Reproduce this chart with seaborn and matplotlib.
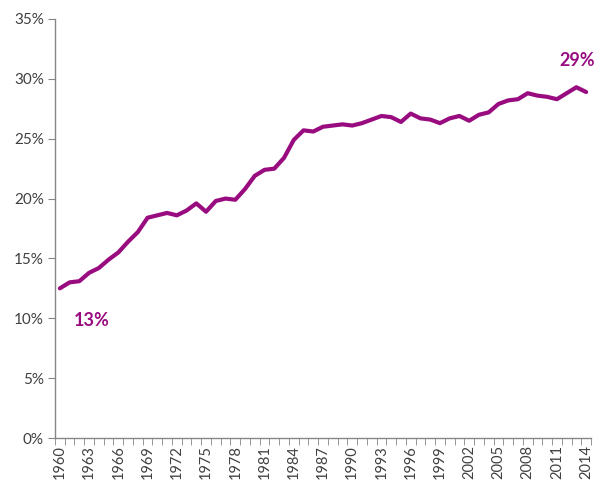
import pandas as pd
import matplotlib.pyplot as plt
import matplotlib.ticker as mticker
import seaborn as sns

# Valores (percentual por ano)
anos = list(range(1960, 2015))
valores = [
    12.5, 13.0, 13.1, 13.8, 14.2, 14.9, 15.5, 16.4, 17.2, 18.4,
    18.6, 18.8, 18.6, 19.0, 19.6, 18.9, 19.8, 20.0, 19.9, 20.8,
    21.9, 22.4, 22.5, 23.4, 24.9, 25.7, 25.6, 26.0, 26.1, 26.2,
    26.1, 26.3, 26.6, 26.9, 26.8, 26.4, 27.1, 26.7, 26.6, 26.3,
    26.7, 26.9, 26.5, 27.0, 27.2, 27.9, 28.2, 28.3, 28.8, 28.6,
    28.5, 28.3, 28.8, 29.3, 28.9,
]
rotulos = ['13%', '29%']

roxo = '#990C80'
cinza = '#868686'
texto = '#404040'

df = pd.DataFrame({'ano': anos, 'valor': valores})

sns.set_style('white')
plt.rcParams['font.family'] = ['Lato', 'DejaVu Sans']

fig = plt.figure(figsize=(5.97, 4.82), dpi=100)
ax = fig.add_axes([55 / 597, 44 / 482, 536 / 597, 419 / 482])

sns.lineplot(data=df, x='ano', y='valor', color=roxo, linewidth=3, ax=ax)

# eixo de categorias: marcas entre os anos, rótulos no centro
ax.set_xlim(anos[0] - 0.5, anos[-1] + 0.5)
ax.set_ylim(0, 35)
ax.set_xlabel('')
ax.set_ylabel('')

ax.yaxis.set_major_locator(mticker.MultipleLocator(5))
ax.yaxis.set_major_formatter(mticker.FuncFormatter(lambda v, p: f'{v:.0f}%'))
ax.set_xticks(anos[::3])
ax.set_xticks([a - 0.5 for a in anos] + [anos[-1] + 0.5], minor=True)
ax.tick_params(axis='x', which='major', rotation=90, labelsize=10.5, length=0,
               labelcolor=texto, pad=5)
ax.tick_params(axis='x', which='minor', length=5, color=cinza,
               direction='out', bottom=True)
ax.tick_params(axis='y', labelsize=11, length=5, color=cinza, direction='out',
               left=True, pad=3, labelcolor=texto)

for lado in ['top', 'right']:
    ax.spines[lado].set_visible(False)
for lado in ['left', 'bottom']:
    ax.spines[lado].set_color(cinza)
    ax.spines[lado].set_linewidth(1)

ax.text(1963.3, 9.8, rotulos[0], color=roxo, fontsize=13, fontweight='bold',
        ha='center', va='center')
ax.text(2013.1, 31.5, rotulos[1], color=roxo, fontsize=13, fontweight='bold',
        ha='center', va='center')

fig.savefig('out.png', dpi=100)
plt.close(fig)
